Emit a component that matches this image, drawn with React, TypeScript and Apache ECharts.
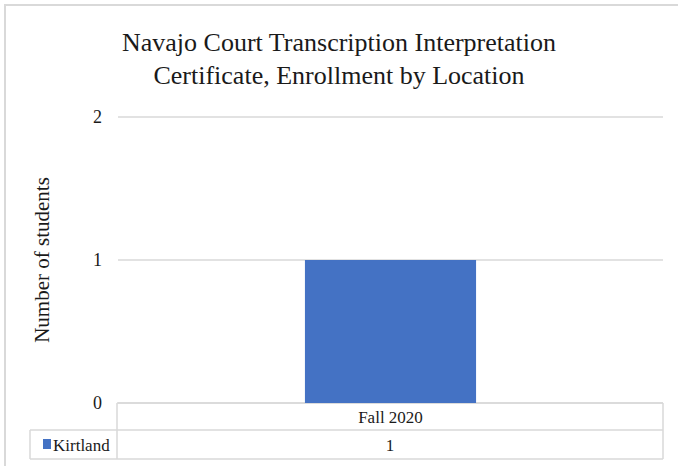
import React, { useEffect, useRef } from "react";
import * as echarts from "echarts";

const titleLines = ["Navajo Court Transcription Interpretation", "Certificate, Enrollment by Location"];
const categories = ["Fall 2020"];
const seriesName = "Kirtland";
const values = [1];
const yTicks = [0, 1, 2];
const yAxisName = "Number of students";

const FONT = "'Liberation Serif', 'Times New Roman', serif";
const TEXT = "#1a1a1a";
const LINE = "#d9d9d9";

export default function App() {
  const ref = useRef<HTMLDivElement>(null);
  useEffect(() => {
    if (!ref.current) return;
    const chart = echarts.init(ref.current, null, { renderer: "svg" });
    const gl = 118, gr = 663, gt = 117, gb = 403;
    chart.setOption({
      animation: false,
      textStyle: { fontFamily: FONT },
      title: {
        text: titleLines.join("\n"),
        left: "center",
        top: 21,
        textStyle: { fontFamily: FONT, fontSize: 26, fontWeight: "normal", color: TEXT, lineHeight: 33 },
      },
      grid: { left: gl, right: 678 - gr, top: gt, bottom: 466 - gb, containLabel: false },
      xAxis: {
        type: "category",
        data: categories,
        axisLine: { show: false },
        axisTick: { show: false },
        axisLabel: { fontFamily: FONT, fontSize: 17, color: TEXT, margin: 6 },
      },
      yAxis: {
        type: "value",
        min: yTicks[0],
        max: yTicks[yTicks.length - 1],
        interval: 1,
        name: yAxisName,
        nameLocation: "middle",
        nameGap: 66,
        nameTextStyle: { fontFamily: FONT, fontSize: 21, color: TEXT },
        axisLabel: { fontFamily: FONT, fontSize: 18, color: TEXT, margin: 16 },
        splitLine: { lineStyle: { color: LINE, width: 1.5 } },
        axisLine: { show: false },
        axisTick: { show: false },
      },
      series: [
        {
          name: seriesName,
          type: "bar",
          data: values,
          barWidth: "31.4%",
          itemStyle: { color: "#4472C4" },
        },
      ],
      graphic: [
        { type: "rect", shape: { x: 5, y: 5, width: 700, height: 500 }, style: { fill: "none", stroke: LINE, lineWidth: 2 }, silent: true },
        { type: "line", shape: { x1: 117, y1: 403, x2: 117, y2: 459 }, style: { stroke: LINE, lineWidth: 1.5 } },
        { type: "line", shape: { x1: gr, y1: 403, x2: gr, y2: 459 }, style: { stroke: LINE, lineWidth: 1.5 } },
        { type: "line", shape: { x1: 117, y1: 403, x2: gr, y2: 403 }, style: { stroke: LINE, lineWidth: 1.5 } },
        { type: "line", shape: { x1: 30, y1: 430, x2: gr, y2: 430 }, style: { stroke: LINE, lineWidth: 1.5 } },
        { type: "line", shape: { x1: 30, y1: 459, x2: gr, y2: 459 }, style: { stroke: LINE, lineWidth: 1.5 } },
        { type: "line", shape: { x1: 30, y1: 430, x2: 30, y2: 459 }, style: { stroke: LINE, lineWidth: 1.5 } },
        { type: "rect", shape: { x: 43, y: 439, width: 8, height: 10 }, style: { fill: "#4472C4" } },
        { type: "text", x: 53, y: 445, style: { text: seriesName, fontFamily: FONT, fontSize: 17, fill: TEXT, verticalAlign: "middle", textAlign: "left" } },
        { type: "text", x: (117 + gr) / 2, y: 445, style: { text: String(values[0]), fontFamily: FONT, fontSize: 17, fill: TEXT, verticalAlign: "middle", textAlign: "center" } },
      ],
    });
    return () => chart.dispose();
  }, []);
  return <div ref={ref} style={{ width: 678, height: 466, position: "absolute", left: 0, top: 0 }} />;
}
